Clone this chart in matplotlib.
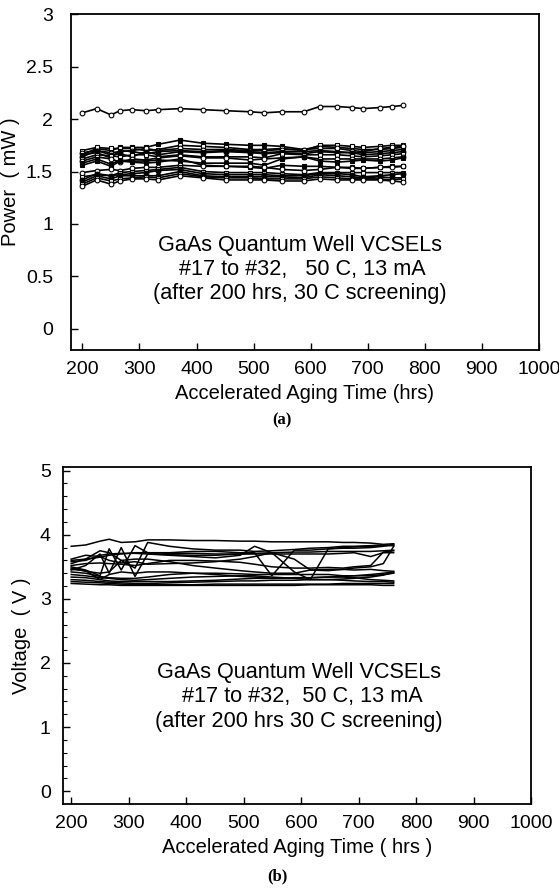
import numpy as np
import matplotlib.pyplot as plt

plt.rcParams['font.family'] = ['Liberation Sans', 'DejaVu Sans']

# aging times (hrs), same read-out points for every device
hours = [200, 225, 250, 266, 287, 311, 333, 371, 411, 451, 494,
         519, 549, 588, 616, 647, 673, 692, 721, 743, 761]

# (a) optical power, mW, devices #17..#32
power = [
    [2.06, 2.10, 2.04, 2.08, 2.09, 2.08, 2.09, 2.10, 2.09, 2.08, 2.07,
     2.06, 2.07, 2.07, 2.12, 2.12, 2.11, 2.10, 2.11, 2.12, 2.13],
    [1.66, 1.72, 1.70, 1.73, 1.73, 1.73, 1.76, 1.80, 1.77, 1.76, 1.75,
     1.75, 1.74, 1.71, 1.74, 1.73, 1.72, 1.71, 1.71, 1.72, 1.73],
    [1.70, 1.73, 1.72, 1.72, 1.72, 1.70, 1.71, 1.75, 1.74, 1.73, 1.71,
     1.71, 1.72, 1.70, 1.75, 1.75, 1.74, 1.73, 1.74, 1.75, 1.75],
    [1.68, 1.70, 1.68, 1.69, 1.70, 1.72, 1.70, 1.72, 1.71, 1.71, 1.70,
     1.70, 1.71, 1.71, 1.72, 1.72, 1.70, 1.69, 1.72, 1.73, 1.74],
    [1.66, 1.68, 1.63, 1.70, 1.69, 1.67, 1.69, 1.70, 1.69, 1.70, 1.69,
     1.68, 1.69, 1.69, 1.70, 1.69, 1.68, 1.68, 1.69, 1.70, 1.71],
    [1.64, 1.70, 1.66, 1.67, 1.64, 1.69, 1.66, 1.69, 1.68, 1.69, 1.68,
     1.67, 1.68, 1.67, 1.69, 1.68, 1.68, 1.66, 1.67, 1.68, 1.69],
    [1.62, 1.66, 1.65, 1.64, 1.66, 1.66, 1.64, 1.66, 1.64, 1.64, 1.64,
     1.63, 1.67, 1.66, 1.66, 1.66, 1.65, 1.64, 1.65, 1.66, 1.67],
    [1.60, 1.64, 1.62, 1.59, 1.62, 1.61, 1.63, 1.65, 1.63, 1.63, 1.61,
     1.62, 1.63, 1.64, 1.62, 1.62, 1.62, 1.62, 1.62, 1.63, 1.64],
    [1.58, 1.62, 1.57, 1.61, 1.60, 1.60, 1.61, 1.60, 1.58, 1.58, 1.58,
     1.56, 1.62, 1.64, 1.60, 1.59, 1.60, 1.61, 1.60, 1.61, 1.63],
    [1.56, 1.60, 1.55, 1.60, 1.59, 1.58, 1.59, 1.62, 1.56, 1.55, 1.54,
     1.53, 1.56, 1.55, 1.55, 1.54, 1.54, 1.53, 1.54, 1.55, 1.55],
    [1.49, 1.51, 1.52, 1.51, 1.53, 1.54, 1.54, 1.56, 1.55, 1.55, 1.55,
     1.54, 1.52, 1.51, 1.52, 1.54, 1.53, 1.53, 1.54, 1.54, 1.55],
    [1.45, 1.47, 1.46, 1.49, 1.50, 1.51, 1.52, 1.54, 1.50, 1.49, 1.49,
     1.49, 1.48, 1.47, 1.49, 1.49, 1.49, 1.49, 1.49, 1.49, 1.49],
    [1.42, 1.48, 1.46, 1.47, 1.48, 1.49, 1.51, 1.52, 1.48, 1.47, 1.47,
     1.47, 1.46, 1.46, 1.48, 1.48, 1.47, 1.45, 1.46, 1.47, 1.48],
    [1.40, 1.46, 1.43, 1.46, 1.46, 1.46, 1.46, 1.50, 1.46, 1.45, 1.45,
     1.45, 1.45, 1.44, 1.47, 1.46, 1.45, 1.44, 1.45, 1.44, 1.44],
    [1.38, 1.44, 1.41, 1.43, 1.44, 1.45, 1.44, 1.48, 1.45, 1.44, 1.44,
     1.43, 1.43, 1.43, 1.45, 1.44, 1.43, 1.43, 1.43, 1.42, 1.43],
    [1.36, 1.42, 1.38, 1.41, 1.43, 1.43, 1.42, 1.46, 1.44, 1.42, 1.42,
     1.42, 1.41, 1.41, 1.43, 1.42, 1.42, 1.42, 1.42, 1.41, 1.40],
]

# (b) forward voltage, V, devices #17..#32
voltage = [
    [3.82, 3.84, 3.90, 3.93, 3.88, 3.89, 3.92, 3.92, 3.91, 3.91, 3.90,
     3.90, 3.89, 3.89, 3.89, 3.89, 3.88, 3.88, 3.87, 3.85, 3.86],
    [3.55, 3.62, 3.75, 3.72, 3.60, 3.48, 3.88, 3.82, 3.78, 3.76, 3.76,
     3.74, 3.75, 3.77, 3.79, 3.80, 3.82, 3.82, 3.83, 3.84, 3.84],
    [3.50, 3.45, 3.36, 3.78, 3.45, 3.83, 3.72, 3.72, 3.74, 3.74, 3.72,
     3.72, 3.36, 3.76, 3.76, 3.78, 3.80, 3.81, 3.82, 3.83, 3.83],
    [3.45, 3.52, 3.70, 3.40, 3.80, 3.35, 3.70, 3.68, 3.66, 3.64, 3.68,
     3.82, 3.72, 3.42, 3.30, 3.78, 3.79, 3.79, 3.80, 3.82, 3.85],
    [3.60, 3.62, 3.65, 3.68, 3.70, 3.72, 3.72, 3.71, 3.71, 3.70, 3.70,
     3.71, 3.72, 3.73, 3.73, 3.74, 3.74, 3.74, 3.74, 3.75, 3.76],
    [3.58, 3.60, 3.68, 3.70, 3.71, 3.71, 3.70, 3.69, 3.68, 3.68, 3.70,
     3.70, 3.70, 3.70, 3.70, 3.70, 3.71, 3.72, 3.66, 3.72, 3.72],
    [3.52, 3.55, 3.56, 3.55, 3.54, 3.52, 3.55, 3.60, 3.60, 3.59, 3.57,
     3.54, 3.50, 3.48, 3.48, 3.49, 3.48, 3.50, 3.52, 3.73, 3.75],
    [3.48, 3.43, 3.40, 3.42, 3.60, 3.62, 3.62, 3.58, 3.52, 3.48, 3.44,
     3.42, 3.40, 3.40, 3.45, 3.46, 3.46, 3.45, 3.46, 3.44, 3.43],
    [3.46, 3.44, 3.30, 3.38, 3.42, 3.40, 3.42, 3.42, 3.40, 3.38, 3.35,
     3.34, 3.32, 3.33, 3.33, 3.34, 3.35, 3.36, 3.38, 3.40, 3.42],
    [3.42, 3.40, 3.35, 3.33, 3.32, 3.32, 3.34, 3.38, 3.40, 3.40, 3.39,
     3.38, 3.38, 3.38, 3.38, 3.38, 3.36, 3.36, 3.36, 3.38, 3.40],
    [3.38, 3.36, 3.33, 3.32, 3.30, 3.29, 3.30, 3.32, 3.34, 3.35, 3.36,
     3.36, 3.34, 3.32, 3.30, 3.30, 3.31, 3.32, 3.34, 3.37, 3.41],
    [3.34, 3.33, 3.30, 3.28, 3.27, 3.27, 3.27, 3.27, 3.28, 3.29, 3.31,
     3.32, 3.32, 3.33, 3.33, 3.34, 3.34, 3.33, 3.30, 3.29, 3.28],
    [3.30, 3.29, 3.27, 3.26, 3.25, 3.24, 3.24, 3.25, 3.26, 3.27, 3.28,
     3.28, 3.29, 3.29, 3.30, 3.30, 3.29, 3.28, 3.27, 3.27, 3.26],
    [3.27, 3.26, 3.25, 3.24, 3.23, 3.22, 3.22, 3.22, 3.22, 3.23, 3.23,
     3.23, 3.23, 3.23, 3.23, 3.23, 3.24, 3.24, 3.24, 3.24, 3.24],
    [3.24, 3.23, 3.22, 3.22, 3.21, 3.21, 3.21, 3.21, 3.21, 3.21, 3.21,
     3.21, 3.21, 3.21, 3.22, 3.22, 3.22, 3.22, 3.22, 3.21, 3.21],
    [3.62, 3.68, 3.66, 3.60, 3.56, 3.58, 3.54, 3.55, 3.56, 3.58, 3.62,
     3.66, 3.72, 3.62, 3.45, 3.44, 3.46, 3.48, 3.50, 3.55, 3.82],
]

xticks = [200, 300, 400, 500, 600, 700, 800, 900, 1000]
power_ticks = [0, 0.5, 1, 1.5, 2, 2.5, 3]
power_ticklabels = ['0', '0.5', '1', '1.5', '2', '2.5', '3']
volt_ticks = [0, 1, 2, 3, 4, 5]

# marker styles cycle: (marker, filled)
styles = [('o', False), ('s', True), ('s', False), ('o', False), ('s', True),
          ('o', True), ('s', False), ('o', False), ('s', True), ('s', True),
          ('o', False), ('s', False), ('o', True), ('s', True), ('s', False),
          ('o', False)]

fig = plt.figure(figsize=(5.59, 8.88), dpi=100)

def style_axes(ax, ypad):
    for s in ax.spines.values():
        s.set_linewidth(1.3)
    ax.tick_params(direction='in', length=5, width=1, labelsize=14,
                   top=False, right=False)
    ax.tick_params(axis='x', pad=8)
    ax.tick_params(axis='y', pad=ypad)
    ax.tick_params(which='minor', direction='in', length=3, width=0.8)
    ax.set_xticks(xticks)

# ---- (a) power
ax1 = fig.add_axes([0.127, 0.606, 0.837, 0.378])
for vals, (m, filled) in zip(power, styles):
    ax1.plot(hours, vals, color='black', lw=1.2, marker=m, ms=3.4, mew=0.8,
             mfc='black' if filled else 'white', mec='black')
style_axes(ax1, 13)
ax1.set_xlim(180, 1000)
ax1.set_ylim(-0.2, 3)
ax1.set_yticks(power_ticks)
ax1.set_yticklabels(power_ticklabels)
ax1.set_xlabel('Accelerated Aging Time (hrs)', fontsize=14.5, labelpad=4)
ax1.set_ylabel('Power  ( mW )', fontsize=14.5, labelpad=4)
ax1.text(0.489, 0.24, 'GaAs Quantum Well VCSELs\n #17 to #32,   50 C, 13 mA\n(after 200 hrs, 30 C screening)',
         transform=ax1.transAxes, ha='center', va='center', fontsize=15.6,
         multialignment='center', linespacing=1.2)
fig.text(0.505, 0.527, '(a)', ha='center', va='center', fontsize=12,
         family=['Liberation Serif', 'DejaVu Serif'], weight='bold')

# ---- (b) voltage
ax2 = fig.add_axes([0.113, 0.0946, 0.837, 0.379])
for vals in voltage:
    ax2.plot(hours, vals, color='black', lw=1.1)
style_axes(ax2, 9)
ax2.set_xlim(186, 1000)
ax2.set_ylim(-0.2, 5.05)
ax2.set_yticks(volt_ticks)
ax2.set_yticks(np.arange(0, 5.01, 0.2), minor=True)
ax2.set_xlabel('Accelerated Aging Time ( hrs )', fontsize=14.5, labelpad=4)
ax2.set_ylabel('Voltage  ( V )', fontsize=14.5, labelpad=6)
ax2.text(0.504, 0.318, 'GaAs Quantum Well VCSELs\n #17 to #32,  50 C, 13 mA\n(after 200 hrs 30 C screening)',
         transform=ax2.transAxes, ha='center', va='center', fontsize=15.6,
         multialignment='center', linespacing=1.2)
fig.text(0.497, 0.013, '(b)', ha='center', va='center', fontsize=12,
         family=['Liberation Serif', 'DejaVu Serif'], weight='bold')

fig.savefig('out.png', dpi=100)
